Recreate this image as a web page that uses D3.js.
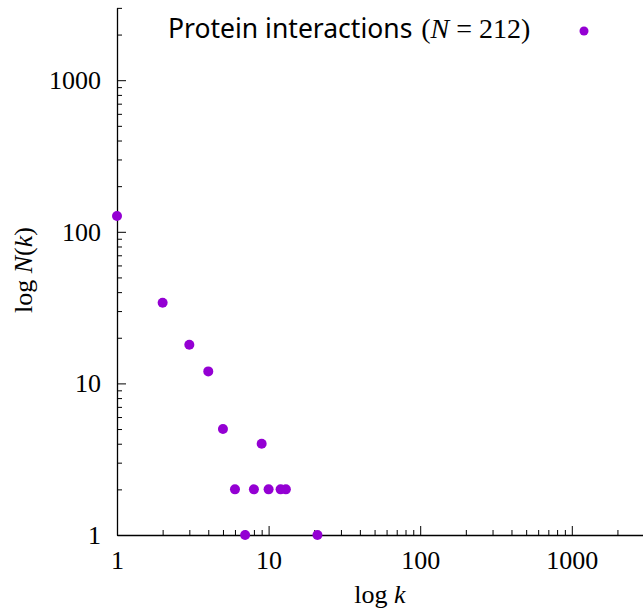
<!DOCTYPE html>
<html>
<head>
<meta charset="utf-8">
<script src="https://cdn.jsdelivr.net/npm/d3@7"></script>
<style>
  html, body { margin: 0; padding: 0; background: #fff; }
  svg { display: block; }
</style>
</head>
<body>
<svg id="chart" width="643" height="609"></svg>
<script>
// Degree distribution of the protein interaction network: k -> N(k)
const degrees = [1, 2, 3, 4, 5, 6, 7, 8, 9, 10, 12, 13, 21];
const counts  = [127, 34, 18, 12, 5, 2, 1, 2, 4, 2, 2, 2, 1];
const seriesName = "Protein interactions ";
const seriesN = 212;
const majorTicks = [1, 10, 100, 1000];
const tickLabels = ["1", "10", "100", "1000"];
const minorTicks = [2,3,4,5,6,7,8,9,20,30,40,50,60,70,80,90,200,300,400,500,600,700,800,900,2000,3000];

const color = "#9400d3";
const serif = "'Liberation Serif', 'DejaVu Serif', serif";
const sans = "'Noto Sans', 'DejaVu Sans', sans-serif";

const svg = d3.select("#chart");
const x0 = 117, y0 = 535, decade = 151.6;
const maxV = 3000;

const x = d3.scaleLog().domain([1, maxV]).range([x0, x0 + Math.log10(maxV) * decade]);
const y = d3.scaleLog().domain([1, maxV]).range([y0, y0 - Math.log10(maxV) * decade]);

// x axis: inward ticks, labels below
const xMajor = d3.axisBottom(x).tickValues(majorTicks).tickSizeInner(-9).tickSizeOuter(0)
  .tickPadding(14).tickFormat((d, i) => tickLabels[i]);
const gx = svg.append("g").attr("transform", `translate(0,${y0})`).call(xMajor);
svg.append("g").attr("transform", `translate(0,${y0})`)
  .call(d3.axisBottom(x).tickValues(minorTicks).tickSizeInner(-5).tickSizeOuter(0).tickFormat(""))
  .select(".domain").remove();

// y axis
const yMajor = d3.axisLeft(y).tickValues(majorTicks).tickSizeInner(-9).tickSizeOuter(0)
  .tickPadding(16).tickFormat((d, i) => tickLabels[i]);
const gy = svg.append("g").attr("transform", `translate(${x0},0)`).call(yMajor);
svg.append("g").attr("transform", `translate(${x0},0)`)
  .call(d3.axisLeft(y).tickValues(minorTicks).tickSizeInner(-5).tickSizeOuter(0).tickFormat(""))
  .select(".domain").remove();

svg.selectAll(".domain").attr("stroke", "#000").attr("stroke-width", 1.3);
svg.selectAll(".tick line").attr("stroke", "#000").attr("stroke-width", 1);
svg.selectAll(".tick text").attr("font-family", serif).attr("font-size", 26).attr("fill", "#000");
gx.selectAll(".tick text").attr("dy", "0.75em");

// axis titles
const xt = svg.append("text").attr("x", 380).attr("y", 603)
  .attr("text-anchor", "middle").attr("font-family", serif).attr("font-size", 26);
xt.append("tspan").text("log ");
xt.append("tspan").attr("font-style", "italic").text("k");

const yt = svg.append("text").attr("transform", "translate(32,270) rotate(-90)")
  .attr("text-anchor", "middle").attr("font-family", serif).attr("font-size", 26);
yt.append("tspan").text("log ");
yt.append("tspan").attr("font-style", "italic").text("N");
yt.append("tspan").text("(");
yt.append("tspan").attr("font-style", "italic").text("k");
yt.append("tspan").text(")");

// points
const data = degrees.map((k, i) => ({ k, n: counts[i] }));
svg.append("g").selectAll("circle").data(data).join("circle")
  .attr("cx", d => x(d.k)).attr("cy", d => y(d.n)).attr("r", 5).attr("fill", color);

// key
const key = svg.append("text").attr("x", 168).attr("y", 38);
key.append("tspan").attr("font-family", sans).attr("font-size", 26.5).text(seriesName);
const math = { "font-family": serif, "font-size": 28 };
const addMath = (txt, italic, dx) => {
  const t = key.append("tspan").attr("font-family", serif).attr("font-size", 28).text(txt);
  if (italic) t.attr("font-style", "italic");
  if (dx) t.attr("dx", dx);
  return t;
};
addMath("(", false, 2);
addMath("N", true);
addMath("=", false, 7);
addMath(String(seriesN), false, 7);
addMath(")", false);
svg.append("circle").attr("cx", 584).attr("cy", 31).attr("r", 4.5).attr("fill", color);
</script>
</body>
</html>
